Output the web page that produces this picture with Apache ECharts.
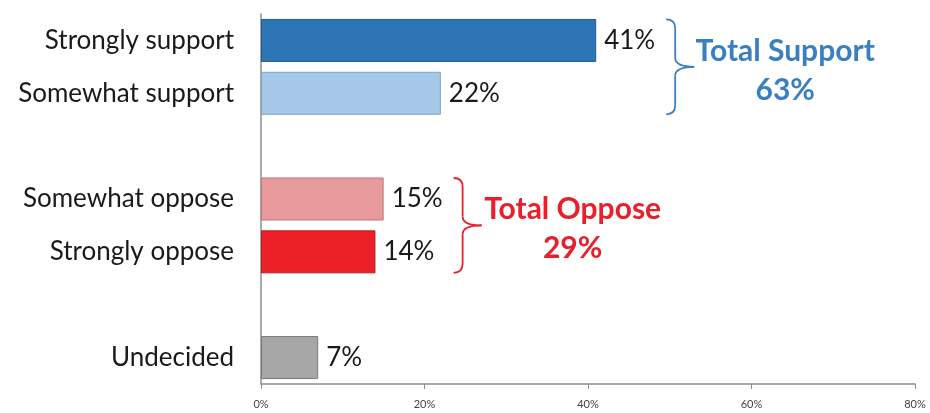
<!DOCTYPE html>
<html>
<head>
<meta charset="utf-8">
<script src="https://cdn.jsdelivr.net/npm/echarts@6/dist/echarts.min.js"></script>
<style>
html, body { margin: 0; padding: 0; background: #fff; }
#chart { width: 930px; height: 413px; }
</style>
</head>
<body>
<div id="chart"></div>
<script>
// categories top to bottom, '' = spacer row
var categories = ['Strongly support', 'Somewhat support', '', 'Somewhat oppose', 'Strongly oppose', '', 'Undecided'];
var values = [41, 22, null, 15, 14, null, 7];
var barColors = ['#2e75b6', '#a6c8e8', null, '#e89a9c', '#ec2027', null, '#a6a6a6'];
var borderColors = ['#1f5a8f', '#7fa3c6', null, '#c07476', '#b51a20', null, '#7a7a7a'];
var xTicks = [0, 20, 40, 60, 80];
var supportIdx = [0, 1];
var opposeIdx = [3, 4];

var font = 'Lato, "Open Sans", sans-serif';
var myChart = echarts.init(document.getElementById('chart'));

var option = {
  animation: false,
  grid: { left: 261, right: 15, top: 14, bottom: 29 },
  xAxis: {
    type: 'value',
    min: xTicks[0],
    max: xTicks[xTicks.length - 1],
    interval: 20,
    splitLine: { show: false },
    axisLine: { show: true, lineStyle: { color: '#8c8c8c', width: 1.5 } },
    axisTick: { show: true, length: 5, lineStyle: { color: '#8c8c8c' } },
    axisLabel: { formatter: '{value}%', color: '#444', fontSize: 11, fontFamily: font, margin: 15 }
  },
  yAxis: {
    type: 'category',
    inverse: true,
    data: categories,
    axisLine: { show: true, lineStyle: { color: '#8c8c8c', width: 1.5 } },
    axisTick: { show: false },
    axisLabel: { color: '#1a1a1a', fontSize: 26, fontFamily: font, margin: 27 }
  },
  series: [{
    type: 'bar',
    barWidth: 43,
    data: values.map(function (v, i) {
      return v == null ? null : {
        value: v,
        itemStyle: { color: barColors[i], borderColor: borderColors[i], borderWidth: 1 }
      };
    }),
    label: {
      show: true,
      position: 'right',
      distance: 8,
      formatter: '{c}%',
      color: '#1a1a1a',
      fontSize: 26,
      fontFamily: font
    }
  }]
};
myChart.setOption(option);

function sum(idx) { return idx.reduce(function (s, i) { return s + values[i]; }, 0); }
function maxOf(idx) { return Math.max.apply(null, idx.map(function (i) { return values[i]; })); }

// curly brace + total text to the right of a group of bars
function brace(idx, color, title) {
  var x0 = myChart.convertToPixel({ xAxisIndex: 0 }, maxOf(idx)) + 70;
  var yA = myChart.convertToPixel({ yAxisIndex: 0 }, idx[0]) - 21;
  var yB = myChart.convertToPixel({ yAxisIndex: 0 }, idx[idx.length - 1]) + 21;
  var ym = (yA + yB) / 2;
  var w = 28, m = x0 + 9, r = 9;
  var ls = { stroke: color, lineWidth: 1.8, fill: null };
  function curve(x1, y1, cx, cy, x2, y2) {
    return { type: 'bezierCurve', shape: { x1: x1, y1: y1, cpx1: cx, cpy1: cy, x2: x2, y2: y2 }, style: ls };
  }
  function line(x1, y1, x2, y2) {
    return { type: 'line', shape: { x1: x1, y1: y1, x2: x2, y2: y2 }, style: ls };
  }
  var cx = x0 + w + 91;
  return [
    curve(x0, yA, m, yA, m, yA + r),
    line(m, yA + r, m, ym - r),
    curve(m, ym - r, m, ym, x0 + w, ym),
    curve(x0 + w, ym, m, ym, m, ym + r),
    line(m, ym + r, m, yB - r),
    curve(m, yB - r, m, yB, x0, yB),
    { type: 'text', x: cx, y: ym - 16, style: { text: title, fill: color, font: 'bold 30px ' + font, align: 'center', verticalAlign: 'middle' } },
    { type: 'text', x: cx, y: ym + 23, style: { text: sum(idx) + '%', fill: color, font: 'bold 30px ' + font, align: 'center', verticalAlign: 'middle' } }
  ];
}

myChart.setOption({
  graphic: brace(supportIdx, '#3a7fc0', 'Total Support').concat(brace(opposeIdx, '#e8202a', 'Total Oppose'))
});
</script>
</body>
</html>
